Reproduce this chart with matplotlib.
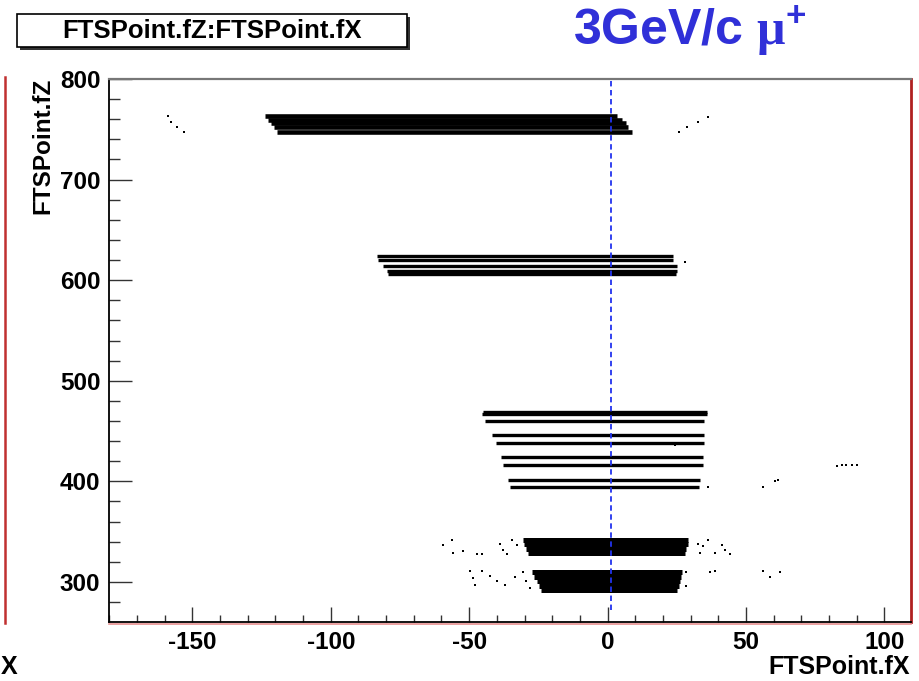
import matplotlib.pyplot as plt
from matplotlib.ticker import MultipleLocator
from matplotlib.patches import Rectangle
from matplotlib.lines import Line2D

plt.rcParams['font.family'] = ['Liberation Sans', 'DejaVu Sans']
plt.rcParams['axes.unicode_minus'] = False
plt.rcParams['mathtext.fontset'] = 'custom'
plt.rcParams['mathtext.rm'] = 'Liberation Serif:bold'
plt.rcParams['mathtext.bf'] = 'Liberation Sans:bold'

# hit bands (each row: z, x start, x end)
top_z = [763.2, 759.7, 756.2, 752.2, 747.7]
top_x0 = [-123.7, -122.6, -121.5, -120.4, -119.3]
top_x1 = [3.4, 5.2, 6.6, 7.3, 8.8]

mid_z = [624.5, 620.2, 613.6, 609.6, 606.3]
mid_x0 = [-83.3, -83.0, -81.2, -79.7, -79.3]
mid_x1 = [23.6, 23.6, 25.0, 25.0, 24.7]

low_z = [469.0, 466.5, 459.6, 445.7, 438.1, 423.8, 415.9, 401.7, 394.4]
low_x0 = [-45.0, -45.4, -44.3, -41.8, -40.3, -38.5, -37.8, -36.0, -35.3]
low_x1 = [35.9, 35.9, 34.8, 34.8, 34.8, 34.4, 34.4, 33.4, 33.0]

bot_z = [341.6, 337.6, 333.1, 328.7, 309.8, 305.3, 300.8, 296.4, 292.4]
bot_x0 = [-30.6, -30.2, -29.5, -28.8, -27.3, -26.6, -25.5, -24.8, -24.1]
bot_x1 = [28.9, 28.9, 28.2, 27.8, 26.8, 26.5, 26.1, 25.8, 25.0]

# isolated hits
stray_x = [-158.8, -157.8, -155.6, -153.0, 25.9, 28.7, 32.7, 36.3, 27.9,
           82.7, 84.5, 86.3, 88.2, 90.0, 61.4, 60.3, 56.1, 36.3, 24.3,
           -59.4, -56.3, -55.8, -52.1, -47.3, -45.5, -38.9, -37.7, -36.5, -34.7, -32.9,
           32.7, 34.5, 36.3, 38.8, 41.2, 42.4, 44.2, 33.3,
           -49.7, -48.5, -47.9, -45.5, -42.5, -40.1, -37.1, -33.5, -30.5, -29.3, -28.1,
           28.5, 28.5, 36.9, 38.8, 56.2, 58.6, 62.2]
stray_z = [763.2, 757.5, 752.2, 747.2, 747.1, 752.0, 757.0, 762.6, 618.0,
           415.6, 415.9, 416.0, 416.3, 416.5, 401.7, 400.5, 394.7, 394.7, 436.4,
           337.1, 341.4, 328.9, 330.5, 328.2, 328.2, 338.1, 332.1, 328.2, 342.1, 337.1,
           338.1, 335.5, 342.1, 328.9, 337.1, 332.1, 327.9, 328.9,
           310.6, 304.0, 297.4, 310.6, 305.6, 300.6, 297.4, 305.0, 309.6, 300.6, 294.1,
           309.6, 295.6, 309.6, 310.6, 310.6, 305.0, 309.6]

beam_x = 1.2
beam_z = [272, 800]

fig = plt.figure(figsize=(9.2, 6.81), dpi=100)
ax = fig.add_axes([0.1188, 0.0871, 0.8711, 0.7969])

ax.hlines(top_z, top_x0, top_x1, color='black', lw=3.3)
ax.hlines(mid_z, mid_x0, mid_x1, color='black', lw=2.4)
ax.hlines(low_z, low_x0, low_x1, color='black', lw=2.4)
ax.hlines(bot_z, bot_x0, bot_x1, color='black', lw=3.6)
ax.scatter(stray_x, stray_z, s=2.5, marker='s', color='black', linewidths=0)
ax.plot([beam_x, beam_x], beam_z, color='#2233ee', lw=1.3, ls=(0, (3, 2)))

ax.set_xlim(-180, 109.5)
ax.set_ylim(260.5, 800)
ax.xaxis.set_major_locator(MultipleLocator(50))
ax.xaxis.set_minor_locator(MultipleLocator(10))
ax.yaxis.set_major_locator(MultipleLocator(100))
ax.yaxis.set_minor_locator(MultipleLocator(20))
ax.tick_params(axis='both', which='both', direction='in', width=1, color='#333333',
               labelsize=17.5, pad=6.5)
ax.tick_params(axis='x', which='major', length=11)
ax.tick_params(axis='x', which='minor', length=5)
ax.tick_params(axis='y', which='major', length=16.5)
ax.tick_params(axis='y', which='minor', length=8)
for lab in ax.get_xticklabels() + ax.get_yticklabels():
    lab.set_fontweight('bold')

ax.spines['left'].set_color('black')
ax.spines['left'].set_linewidth(1.3)
ax.spines['bottom'].set_color('black')
ax.spines['bottom'].set_linewidth(1.3)
ax.spines['top'].set_color('#777777')
ax.spines['top'].set_linewidth(1.6)
ax.spines['right'].set_color('#b02020')
ax.spines['right'].set_linewidth(2.0)

# pad borders
fig.add_artist(Line2D([109.3 / 920, 911 / 920], [1 - 623.5 / 681, 1 - 623.5 / 681],
                      color='#e89090', lw=1.2))
fig.add_artist(Line2D([4.5 / 920, 4.5 / 920], [1 - 77 / 681, 1 - 623 / 681],
                      color='#c03030', lw=1.8))

fig.text(910 / 920, 1 - 667 / 681, 'FTSPoint.fX', ha='right', va='center',
         fontsize=18, fontweight='bold')
# remnant of the neighbouring pad's axis title
fig.text(0.5 / 920, 1 - 667 / 681, 'X', ha='left', va='center',
         fontsize=18, fontweight='bold')
fig.text(43 / 920, 1 - 78 / 681, 'FTSPoint.fZ', rotation=90, ha='center', va='top',
         fontsize=17.5, fontweight='bold')

# title box with shadow
bx0, bx1 = 17 / 920, 407 / 920
by0, by1 = 1 - 46.7 / 681, 1 - 14 / 681
fig.add_artist(Rectangle((bx0 + 3 / 920, by0 - 3 / 681), bx1 - bx0, by1 - by0,
                         transform=fig.transFigure, facecolor='#333333', edgecolor='none'))
fig.add_artist(Rectangle((bx0, by0), bx1 - bx0, by1 - by0, transform=fig.transFigure,
                         facecolor='white', edgecolor='black', lw=1.2))
fig.text((bx0 + bx1) / 2, 1 - 31 / 681, 'FTSPoint.fZ:FTSPoint.fX', ha='center',
         va='center', fontsize=18.5, fontweight='bold')

fig.text(689.5 / 920, 1 - 31 / 681, r'3GeV/c $\mathrm{\mu}^{\mathbf{+}}$', ha='center',
         va='center', fontsize=36, fontweight='bold', color='#3030d8')

fig.savefig('out.png', dpi=100)
